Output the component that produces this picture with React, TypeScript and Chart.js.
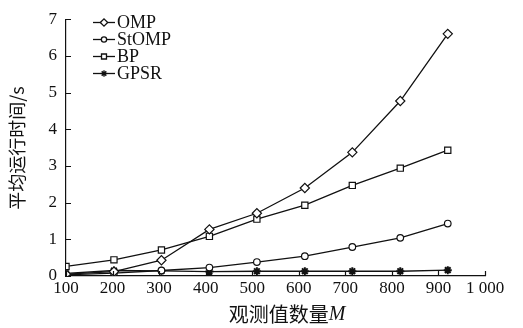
import React, { useEffect, useRef } from "react";
import { Chart, registerables } from "chart.js";
import { drawPoint } from "chart.js/helpers";

Chart.register(...registerables);

const xValues = [100, 203, 305, 408, 510, 613, 715, 818, 920];
const ompValues = [0.05, 0.12, 0.43, 1.27, 1.71, 2.4, 3.37, 4.77, 6.6];
const stompValues = [0.03, 0.08, 0.15, 0.23, 0.38, 0.54, 0.79, 1.04, 1.43];
const bpValues = [0.26, 0.44, 0.71, 1.08, 1.55, 1.93, 2.47, 2.94, 3.43];
const gpsrValues = [0.07, 0.15, 0.14, 0.12, 0.13, 0.13, 0.13, 0.13, 0.16];

const seriesNames = ["OMP", "StOMP", "BP", "GPSR"];
const xTickMin = 100;
const xTickMax = 1000;
const yTickMax = 7;
const yTitle = "平均运行时间/s";
const xTitleMain = "观测值数量";
const xTitleVar = "M";

const INK = "#111";
const SERIF = "'Liberation Serif', 'Times New Roman', serif";
const CJK = "'Noto Sans CJK SC', sans-serif";

const markerStyles: any[] = [
  { pointStyle: "rectRot", radius: 4.6, borderWidth: 1.2 },
  { pointStyle: "circle", radius: 3.3, borderWidth: 1.2 },
  { pointStyle: "rect", radius: 4.4, borderWidth: 1.2 },
  { pointStyle: "star", radius: 4, borderWidth: 2 },
];

const seriesValues = [ompValues, stompValues, bpValues, gpsrValues];

const decorPlugin = {
  id: "decor",
  afterDraw(chart: any) {
    const ctx = chart.ctx;
    const xs = chart.scales.x;
    const ys = chart.scales.y;
    const area = chart.chartArea;
    ctx.save();
    ctx.strokeStyle = INK;
    ctx.lineWidth = 1.2;
    // inside tick marks
    ctx.beginPath();
    xs.ticks.forEach((t: any) => {
      const px = Math.round(xs.getPixelForValue(t.value)) + 0.5;
      ctx.moveTo(px, area.bottom);
      ctx.lineTo(px, area.bottom - 5);
    });
    ys.ticks.forEach((t: any) => {
      const py = Math.round(ys.getPixelForValue(t.value)) + 0.5;
      ctx.moveTo(area.left, py);
      ctx.lineTo(area.left + 5, py);
    });
    ctx.stroke();

    // y title
    ctx.fillStyle = INK;
    ctx.save();
    ctx.translate(17, 148);
    ctx.rotate(-Math.PI / 2);
    ctx.textAlign = "center";
    ctx.textBaseline = "middle";
    ctx.font = `18px ${CJK}`;
    ctx.fillText(yTitle, 0, 0);
    ctx.restore();

    // x title
    ctx.textBaseline = "middle";
    ctx.textAlign = "left";
    ctx.font = `20px ${CJK}`;
    const w1 = ctx.measureText(xTitleMain).width;
    ctx.font = `italic 20px ${SERIF}`;
    const w2 = ctx.measureText(xTitleVar).width;
    const startX = 287 - (w1 + w2) / 2;
    ctx.font = `20px ${CJK}`;
    ctx.fillText(xTitleMain, startX, 314);
    ctx.font = `italic 20px ${SERIF}`;
    ctx.fillText(xTitleVar, startX + w1, 315);

    // legend
    const rows = [22, 39, 56, 73];
    ctx.font = `18px ${SERIF}`;
    ctx.textBaseline = "middle";
    seriesNames.forEach((name, i) => {
      const y = rows[i] + 0.5;
      ctx.strokeStyle = INK;
      ctx.lineWidth = 1.3;
      ctx.beginPath();
      ctx.moveTo(93, y);
      ctx.lineTo(115, y);
      ctx.stroke();
      ctx.fillStyle = "#fff";
      drawPoint(ctx, { ...markerStyles[i], radius: markerStyles[i].radius * 0.8, rotation: 0 }, 104, y);
      ctx.fillStyle = INK;
      ctx.fillText(name, 117, rows[i] + 1);
    });
    ctx.restore();
  },
};

export default function App() {
  const ref = useRef<HTMLCanvasElement | null>(null);
  useEffect(() => {
    if (!ref.current) return;
    const datasets = seriesNames.map((name, i) => ({
      label: name,
      data: xValues.map((x, j) => ({ x, y: seriesValues[i][j] })),
      borderColor: INK,
      borderWidth: 1.3,
      backgroundColor: i === 3 ? INK : "#fff",
      pointBorderColor: INK,
      pointBackgroundColor: "#fff",
      pointStyle: markerStyles[i].pointStyle,
      pointRadius: markerStyles[i].radius,
      pointBorderWidth: markerStyles[i].borderWidth,
      tension: 0,
      fill: false,
    }));
    const chart = new Chart(ref.current, {
      type: "line",
      data: { datasets },
      plugins: [decorPlugin],
      options: {
        animation: false,
        responsive: false,
        devicePixelRatio: 1,
        layout: { padding: { top: 15, right: 38, left: 0, bottom: 0 } },
        plugins: { legend: { display: false }, tooltip: { enabled: false } },
        scales: {
          x: {
            type: "linear",
            min: xTickMin,
            max: xTickMax,
            grid: { display: false, drawTicks: false },
            border: { display: true, color: INK, width: 1.2 },
            ticks: {
              stepSize: 100,
              padding: 2,
              color: INK,
              font: { family: SERIF, size: 17 },
              maxRotation: 0,
              autoSkip: false,
              callback: (v: any) => (v >= 1000 ? "1 000" : String(v)),
            },
            afterFit: (s: any) => {
              s.height = 52;
            },
          },
          y: {
            min: 0,
            max: yTickMax,
            grid: { display: false, drawTicks: false },
            border: { display: true, color: INK, width: 1.2 },
            ticks: {
              stepSize: 1,
              padding: 9,
              color: INK,
              font: { family: SERIF, size: 17 },
            },
            afterFit: (s: any) => {
              s.width = 66;
            },
          },
        },
      },
    });
    return () => chart.destroy();
  }, []);
  return (
    <div style={{ position: "absolute", left: 0, top: 0, width: 523, height: 328, background: "#fff" }}>
      <canvas ref={ref} width={523} height={328} />
    </div>
  );
}
